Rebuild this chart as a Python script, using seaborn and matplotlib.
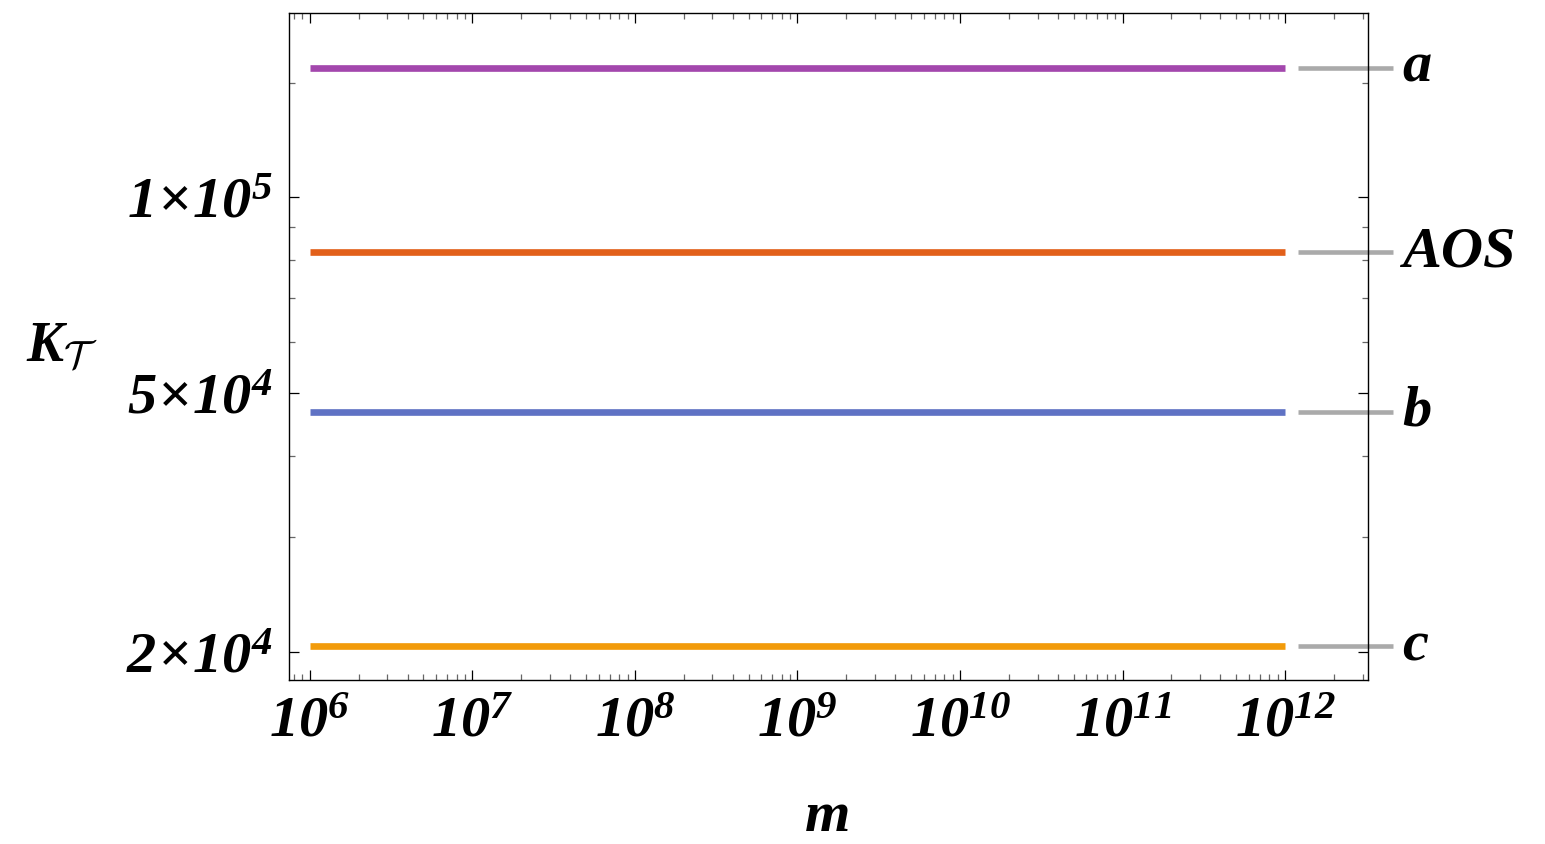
import numpy as np
import pandas as pd
import matplotlib
matplotlib.use('Agg')
import matplotlib.pyplot as plt
import matplotlib.ticker as mticker
import matplotlib.transforms as mtransforms
import seaborn as sns

sns.set_style('ticks')
plt.rcParams['font.family'] = ['Liberation Serif', 'DejaVu Serif']
plt.rcParams['mathtext.fontset'] = 'custom'
plt.rcParams['mathtext.rm'] = 'Liberation Serif:italic:bold'
plt.rcParams['mathtext.it'] = 'Liberation Serif:italic:bold'
plt.rcParams['mathtext.bf'] = 'Liberation Serif:italic:bold'
plt.rcParams['mathtext.cal'] = 'cmsy10'
plt.rcParams['text.color'] = 'black'
plt.rcParams['axes.labelcolor'] = 'black'
plt.rcParams['xtick.labelcolor'] = 'black'
plt.rcParams['ytick.labelcolor'] = 'black'

# 数据
m_range = [1e6, 1e12]
series_names = ['a', 'AOS', 'b', 'c']
K_values = [1.58e5, 8.23e4, 4.68e4, 2.04e4]
colors = ['#a347ad', '#e2601a', '#5f72c4', '#f29b0a']

xtick_vals = [1e6, 1e7, 1e8, 1e9, 1e10, 1e11, 1e12]
xtick_labels = [r'$10^{6}$', r'$10^{7}$', r'$10^{8}$', r'$10^{9}$',
                r'$10^{10}$', r'$10^{11}$', r'$10^{12}$']
ytick_vals = [2e4, 5e4, 1e5]
ytick_labels = [r'$2\!\times\!10^{4}$', r'$5\!\times\!10^{4}$', r'$1\!\times\!10^{5}$']
yminor_vals = [3e4, 4e4, 6e4, 7e4, 8e4, 9e4, 1.5e5]

rows = []
for name, k in zip(series_names, K_values):
    for m in m_range:
        rows.append({'m': m, 'K': k, 'curve': name})
df = pd.DataFrame(rows)

fig = plt.figure(figsize=(15.45, 8.44), dpi=100)
ax = fig.add_axes([0.187, 0.1943, 0.6984, 0.7903])

sns.lineplot(data=df, x='m', y='K', hue='curve', palette=dict(zip(series_names, colors)),
             linewidth=4.8, legend=False, ax=ax)
for line in ax.get_lines():
    line.set_solid_capstyle('butt')
ax.set_xscale('log')
ax.set_yscale('log')
ax.set_xlim(10 ** 5.871, 10 ** 12.51)
ax.set_ylim(10 ** 4.258, 10 ** 5.283)

# 右侧标注
trans = mtransforms.blended_transform_factory(ax.transAxes, ax.transData)
for name, k in zip(series_names, K_values):
    ax.plot([0.935, 1.023], [k, k], color='#aaaaaa', lw=3.3, transform=trans,
            clip_on=False, solid_capstyle='butt')
    ax.text(1.032, k, name, transform=trans, ha='left', va='center',
            fontsize=42, fontweight='bold', fontstyle='italic')

ax.xaxis.set_major_locator(mticker.FixedLocator(xtick_vals))
ax.xaxis.set_major_formatter(mticker.FixedFormatter(xtick_labels))
ax.xaxis.set_minor_locator(mticker.LogLocator(base=10, subs=np.arange(2, 10), numticks=20))
ax.xaxis.set_minor_formatter(mticker.NullFormatter())
ax.yaxis.set_major_locator(mticker.FixedLocator(ytick_vals))
ax.yaxis.set_major_formatter(mticker.FixedFormatter(ytick_labels))
ax.yaxis.set_minor_locator(mticker.FixedLocator(yminor_vals))
ax.yaxis.set_minor_formatter(mticker.NullFormatter())

ax.tick_params(which='both', direction='in', top=True, right=True)
ax.tick_params(which='major', length=7, width=0.9, color='black', labelsize=42, pad=12)
ax.tick_params(which='minor', length=4.5, width=0.9, color='#666666')
for s in ax.spines.values():
    s.set_linewidth(1.0)
    s.set_color('black')

ax.set_xlabel(r'$m$', fontsize=42, va='center')
ax.set_ylabel(r'$K_{\mathcal{T}}$', fontsize=40, rotation=0, va='center', ha='center')
ax.xaxis.set_label_coords(0.498, -0.205)
ax.yaxis.set_label_coords(-0.21, 0.5)

fig.savefig('out.png', dpi=100)
